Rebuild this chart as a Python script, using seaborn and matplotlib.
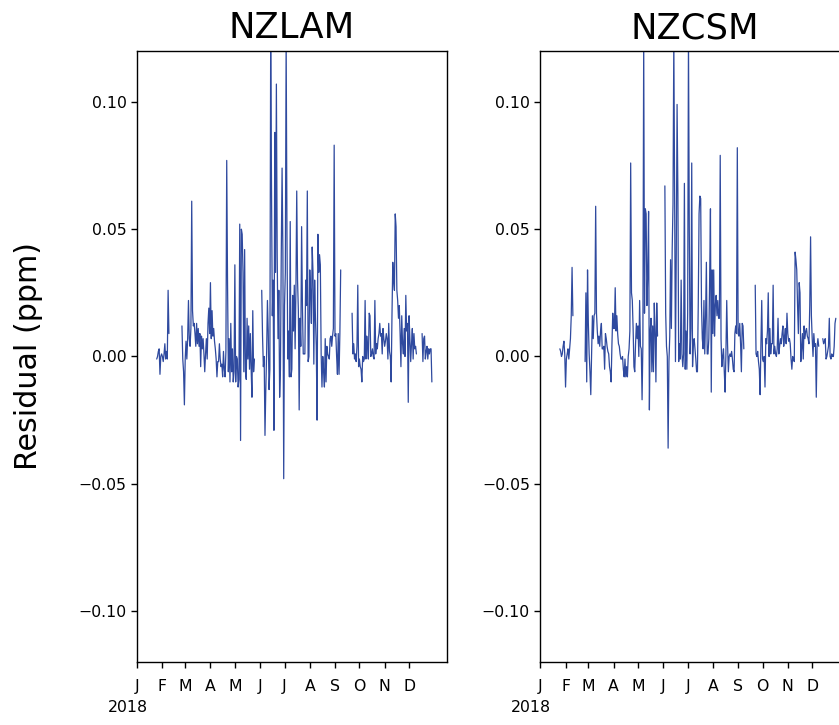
import numpy as np
import pandas as pd
import matplotlib
matplotlib.use("Agg")
import matplotlib.pyplot as plt
import seaborn as sns

# ---------------- data (daily residuals, ppm) ----------------
panel_titles = ["NZLAM", "NZCSM"]
y_label = "Residual (ppm)"
year_label = "2018"
month_ticks = pd.date_range("2018-01-01", periods=12, freq="MS")
month_labels = ["J", "F", "M", "A", "M", "J", "J", "A", "S", "O", "N", "D"]
y_ticks = [-0.10, -0.05, 0.00, 0.05, 0.10]

nzlam_starts = ["2018-01-25", "2018-02-25", "2018-06-03", "2018-09-22", "2018-12-17"]
nzlam_a = [-0.001, 0.000, 0.002, 0.003, -0.007, 0.000, 0.001, 0.000, -0.002, 0.001,
           0.005, -0.001, 0.002, -0.001, 0.026, 0.009]
nzlam_b = [0.012, -0.001, -0.006, -0.019, -0.001, 0.006, -0.001, 0.007, 0.022, 0.007,
           0.004, 0.011, 0.061, 0.018, 0.012, 0.013, 0.009, 0.004, 0.013, 0.005,
           0.011, 0.004, 0.009, -0.004, 0.008, 0.003, 0.007, 0.001, -0.006, 0.001,
           0.007, -0.001, 0.013, 0.019, 0.009, 0.029, 0.007, 0.018, 0.008, 0.011,
           0.006, 0.003, -0.001, -0.008, -0.002, -0.002, 0.005, -0.001, -0.004, -0.003,
           -0.008, 0.002, -0.005, -0.008, 0.002, 0.077, 0.029, -0.006, 0.007, -0.010,
           0.013, -0.006, 0.003, -0.010, -0.006, 0.036, -0.010, 0.000, -0.001, -0.012,
           -0.009, 0.052, -0.033, 0.050, 0.048, 0.033, -0.006, 0.042, -0.006, -0.009,
           0.015, -0.001, 0.012, -0.005, 0.009, -0.005, -0.016, 0.018, -0.006, -0.001]
nzlam_c = [0.026, 0.008, -0.004, 0.000, -0.031, -0.013, 0.001, 0.022, 0.010, -0.013,
           -0.005, 0.125, 0.067, 0.016, 0.030, -0.029, 0.088, 0.033, 0.107, 0.040,
           0.007, 0.026, -0.016, -0.005, 0.040, 0.074, 0.041, -0.048, 0.020, 0.033,
           0.125, 0.048, -0.001, 0.010, -0.008, 0.053, -0.008, -0.005, 0.024, 0.010,
           0.028, 0.003, 0.026, 0.065, 0.030, 0.018, -0.021, 0.015, 0.004, 0.051,
           0.020, 0.001, 0.001, 0.001, 0.030, 0.020, 0.065, -0.002, 0.000, 0.034,
           0.025, 0.013, 0.043, 0.033, -0.003, 0.030, 0.015, 0.004, -0.025, 0.048,
           0.033, 0.040, 0.036, 0.001, -0.012, 0.000, -0.006, -0.012, 0.007, -0.010,
           0.004, 0.001, 0.000, -0.001, 0.007, 0.008, 0.004, 0.008, 0.011, 0.083,
           0.008, 0.009, 0.000, -0.007, 0.009, -0.007, 0.009, 0.034]
nzlam_d = [0.017, 0.001, 0.005, -0.001, 0.001, -0.002, 0.004, 0.028, -0.004, -0.001,
           -0.004, -0.005, -0.010, 0.000, -0.002, -0.001, 0.022, -0.001, 0.008, 0.004,
           -0.001, 0.017, 0.016, 0.000, 0.001, 0.003, 0.000, -0.001, 0.022, 0.001,
           0.005, 0.003, 0.007, 0.009, 0.013, 0.008, 0.009, 0.001, 0.011, 0.007,
           0.004, 0.006, 0.009, 0.007, -0.001, 0.013, 0.002, 0.000, -0.010, 0.016,
           0.037, 0.030, 0.026, 0.056, 0.051, 0.026, 0.022, 0.015, 0.020, 0.009,
           -0.004, 0.016, 0.005, 0.001, 0.011, 0.000, 0.024, 0.010, 0.013, -0.018,
           0.016, 0.007, -0.002, 0.005, 0.011, -0.001, 0.009, 0.003, 0.004, 0.001]
nzlam_e = [0.009, -0.002, 0.007, 0.008, -0.001, 0.002, 0.004, -0.001, 0.003, 0.001,
           0.003, 0.003, -0.010]

nzcsm_starts = ["2018-01-25", "2018-02-25", "2018-06-03", "2018-09-22", "2018-12-14"]
nzcsm_a = [0.003, 0.002, 0.000, 0.001, 0.004, 0.006, 0.001, -0.012, -0.001, 0.001,
           0.003, -0.001, 0.003, 0.007, 0.016, 0.035, 0.016]
nzcsm_b = [-0.002, 0.025, -0.010, 0.034, 0.013, 0.001, -0.006, -0.015, 0.001, 0.016,
           0.007, 0.016, 0.017, 0.059, 0.017, 0.010, 0.005, 0.008, 0.004, 0.010,
           0.013, 0.003, 0.003, 0.004, -0.005, 0.009, 0.007, 0.004, 0.002, 0.001,
           -0.004, -0.006, -0.010, 0.005, 0.017, 0.011, 0.011, 0.027, 0.010, 0.016,
           0.009, 0.005, 0.004, 0.001, -0.001, -0.001, 0.000, -0.005, -0.008, -0.001,
           -0.008, -0.004, -0.008, 0.000, 0.003, 0.010, 0.076, 0.025, 0.022, 0.011,
           -0.004, -0.006, 0.005, 0.013, 0.007, 0.012, 0.000, 0.022, 0.004, 0.003,
           -0.017, 0.005, 0.125, 0.017, 0.058, 0.056, 0.020, 0.033, 0.057, -0.021,
           0.010, 0.015, -0.006, 0.012, -0.006, 0.021, 0.010, -0.010, 0.021, 0.008]
nzcsm_c = [0.067, 0.017, 0.004, 0.000, -0.036, -0.002, 0.008, 0.038, 0.011, 0.042,
           0.060, 0.125, 0.062, -0.002, 0.040, 0.099, 0.064, -0.002, 0.005, -0.001,
           0.030, 0.001, -0.004, 0.001, 0.068, -0.005, 0.010, -0.005, 0.017, 0.125,
           0.050, 0.001, 0.011, 0.076, -0.004, 0.005, 0.007, 0.003, -0.001, -0.006,
           -0.006, 0.020, 0.056, 0.063, 0.062, 0.020, 0.007, 0.003, 0.022, 0.001,
           0.015, 0.037, 0.001, 0.001, 0.007, 0.030, 0.058, -0.014, 0.034, 0.009,
           0.034, 0.008, 0.020, 0.024, 0.016, 0.022, 0.015, 0.015, 0.079, 0.007,
           -0.004, 0.000, 0.003, -0.006, -0.014, 0.001, 0.022, 0.005, -0.006, 0.000,
           0.001, 0.000, 0.002, -0.001, -0.005, -0.006, 0.009, 0.012, 0.009, 0.082,
           0.009, 0.008, 0.013, 0.005, -0.006, 0.013, 0.012, 0.003]
nzcsm_d = [0.028, 0.001, 0.000, 0.002, -0.002, -0.005, -0.015, 0.005, 0.022, -0.001,
           -0.002, 0.000, -0.012, 0.007, 0.005, 0.010, 0.025, 0.000, 0.011, 0.001,
           0.005, 0.005, 0.028, 0.001, 0.004, 0.001, 0.000, 0.003, 0.015, 0.001,
           0.004, 0.007, 0.005, 0.009, 0.012, 0.004, 0.008, 0.011, 0.005, 0.017,
           0.009, 0.006, 0.007, 0.005, -0.001, -0.005, 0.000, -0.001, -0.002, 0.041,
           0.038, 0.034, 0.020, 0.009, 0.029, 0.025, -0.002, 0.003, 0.009, -0.001,
           0.012, 0.007, 0.010, 0.011, 0.008, 0.007, 0.005, 0.020, 0.047, 0.016,
           0.007, 0.000, 0.009, 0.004, 0.005, -0.016, 0.004, 0.007, 0.004]
nzcsm_e = [0.007, 0.005, 0.006, 0.007, -0.001, 0.000, 0.002, 0.004, 0.015, 0.000,
           -0.001, 0.001, 0.000, 0.000, 0.004, 0.013, 0.015]

series = {
    "NZLAM": (nzlam_starts, [nzlam_a, nzlam_b, nzlam_c, nzlam_d, nzlam_e]),
    "NZCSM": (nzcsm_starts, [nzcsm_a, nzcsm_b, nzcsm_c, nzcsm_d, nzcsm_e]),
}


def build_frame(starts, segments):
    frames = []
    for i, (s, vals) in enumerate(zip(starts, segments)):
        frames.append(pd.DataFrame({
            "date": pd.date_range(s, periods=len(vals), freq="D"),
            "residual": vals,
            "segment": i,
        }))
    return pd.concat(frames, ignore_index=True)


# ---------------- style ----------------
sns.set_theme(style="ticks", rc={
    "axes.edgecolor": "black",
    "xtick.color": "black",
    "ytick.color": "black",
    "text.color": "black",
    "axes.labelcolor": "black",
    "axes.titlecolor": "black",
    "axes.linewidth": 1.0,
})
plt.rcParams["font.family"] = ["DejaVu Sans"]

line_color = "#2f4a9f"
tick_fs = 11.3

fig = plt.figure(figsize=(8.39, 7.25), dpi=100)
ax_w = 0.3687
positions = [[0.1635, 0.0869, ax_w, 0.8428], [0.644, 0.0869, ax_w, 0.8428]]

for k, name in enumerate(panel_titles):
    ax = fig.add_axes(positions[k])
    starts, segs = series[name]
    df = build_frame(starts, segs)
    sns.lineplot(data=df, x="date", y="residual", units="segment", estimator=None,
                 color=line_color, linewidth=0.9, ax=ax, legend=False)
    ax.set_ylim(-0.12, 0.12)
    ax.set_xlim(pd.Timestamp("2018-01-01"), pd.Timestamp("2019-01-16"))
    ax.set_yticks(y_ticks)
    ax.set_xticks(month_ticks)
    ax.set_xticklabels(month_labels)
    ax.tick_params(labelsize=tick_fs, length=4, width=1, colors="black")
    ax.tick_params(axis="x", pad=8)
    ax.annotate(year_label, xy=(month_ticks[0], 0), xycoords=("data", "axes fraction"),
                xytext=(-6.5, -32.5), textcoords="offset points",
                ha="center", va="center", fontsize=tick_fs, color="black")
    ax.set_xlabel("")
    ax.set_title(name, fontsize=25.5, pad=9, color="black")
    if k == 0:
        ax.set_ylabel(y_label, fontsize=21.7, labelpad=26, color="black")
    else:
        ax.set_ylabel("")
    for sp in ax.spines.values():
        sp.set_visible(True)

fig.savefig("out.png", dpi=100)
